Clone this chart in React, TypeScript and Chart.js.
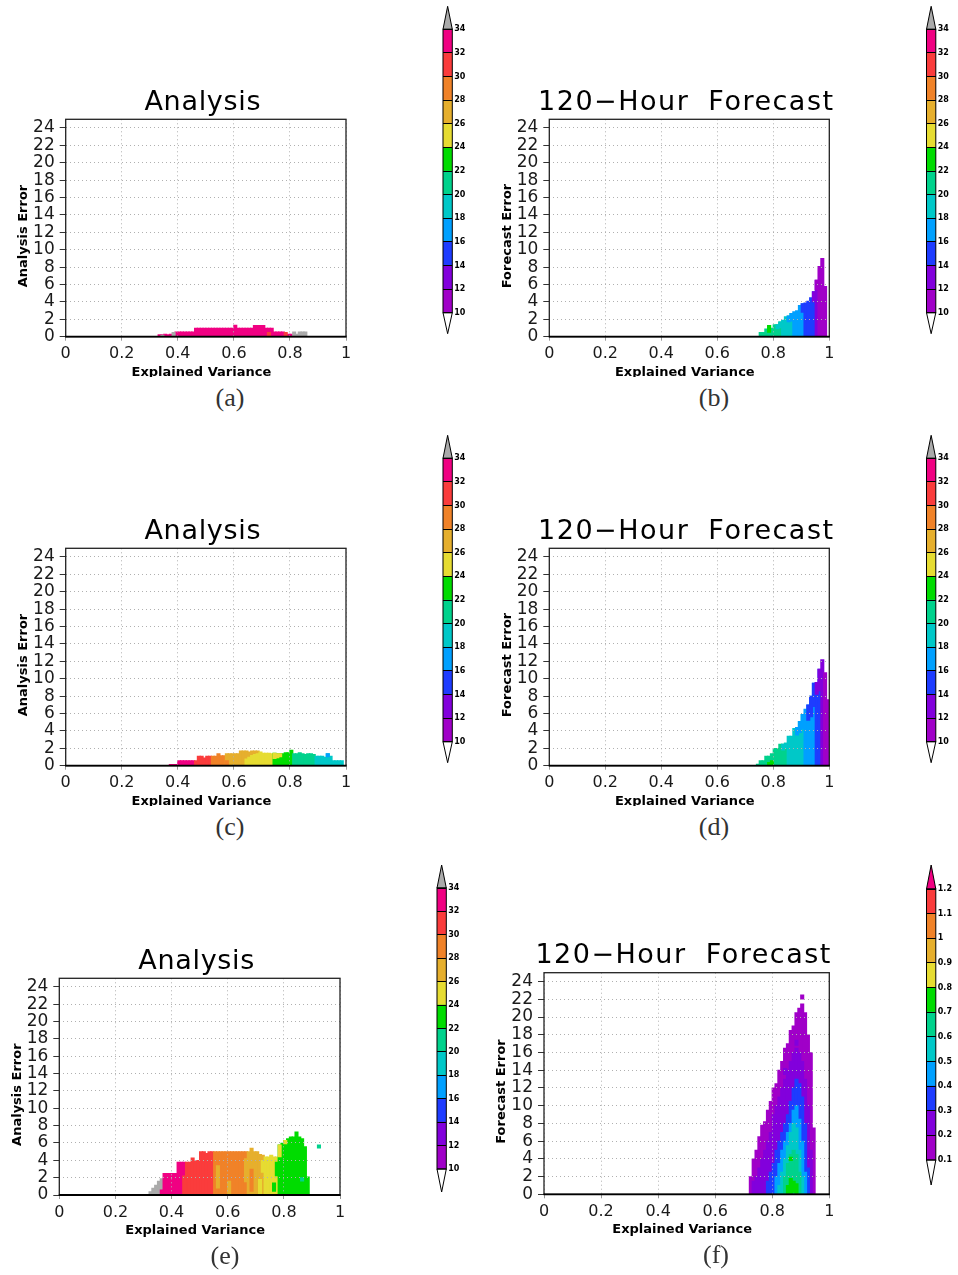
import React, { useEffect, useRef } from 'react';
import { Chart, registerables } from 'chart.js';

Chart.register(...registerables);

const FONT = "'DejaVu Sans', 'Liberation Sans', sans-serif";
const BIN = 0.01;

// GrADS rainbow palette: index = colour level (lowest band first), last = above-range grey
const palette = ['#a000c8', '#8200dc', '#1e3cff', '#00a0ff', '#00c8c8', '#00d28c', '#00dc00', '#e6dc32', '#e6af2d', '#f08228', '#fa3c3c', '#f00082', '#aaaaaa'];

const xTickValues = [0, 0.2, 0.4, 0.6, 0.8, 1];
const xTickLabels = ['0', '0.2', '0.4', '0.6', '0.8', '1'];
const yTickValues = [0, 2, 4, 6, 8, 10, 12, 14, 16, 18, 20, 22, 24];
const yTickLabels = ['0', '2', '4', '6', '8', '10', '12', '14', '16', '18', '20', '22', '24'];

const cbLevels = [10, 12, 14, 16, 18, 20, 22, 24, 26, 28, 30, 32, 34];
const cbLabels = ['10', '12', '14', '16', '18', '20', '22', '24', '26', '28', '30', '32', '34'];
const cbLevelsF = [0.1, 0.2, 0.3, 0.4, 0.5, 0.6, 0.7, 0.8, 0.9, 1.0, 1.1, 1.2];
const cbLabelsF = ['0.1', '0.2', '0.3', '0.4', '0.5', '0.6', '0.7', '0.8', '0.9', '1', '1.1', '1.2'];

// ---------- Panel (a): columns (bin left edge), top of column, colour level ----------
const aX = [0.33, 0.34, 0.35, 0.36, 0.37, 0.38, 0.39, 0.40, 0.41, 0.42, 0.43, 0.44, 0.45, 0.46, 0.47, 0.48, 0.49, 0.50, 0.51, 0.52, 0.53, 0.54, 0.55, 0.56, 0.57, 0.58, 0.59, 0.60, 0.61, 0.62, 0.63, 0.64, 0.65, 0.66, 0.67, 0.68, 0.69, 0.70, 0.71, 0.72, 0.73, 0.74, 0.75, 0.76, 0.77, 0.78, 0.79, 0.80, 0.81, 0.82, 0.83, 0.84, 0.85];
const aTop = [0.25, 0.25, 0.3, 0.25, 0.3, 0.3, 0.55, 0.55, 0.55, 0.55, 0.55, 0.55, 0.55, 1.0, 1.0, 1.0, 1.0, 1.0, 1.0, 1.0, 1.0, 1.0, 1.0, 1.0, 1.0, 1.0, 1.0, 1.35, 1.0, 1.0, 1.0, 1.0, 1.0, 1.0, 1.3, 1.3, 1.3, 1.3, 1.0, 1.0, 1.0, 0.55, 0.55, 0.55, 0.55, 0.3, 0.3, 0.3, 0.55, 0.3, 0.55, 0.55, 0.55];
const aLevel = [11, 11, 11, 11, 11, 11, 11, 11, 11, 11, 11, 11, 11, 11, 11, 11, 11, 11, 11, 11, 11, 11, 11, 11, 11, 11, 11, 11, 11, 11, 11, 11, 11, 11, 11, 11, 11, 11, 11, 11, 11, 11, 11, 11, 11, 11, 11, 11, 12, 12, 12, 12, 12];
const aExtra = [[0.38, 0, 0.5, 12], [0.34, 0, 0.2, 12], [0.72, 0, 0.5, 10], [0.78, 0, 0.5, 10]];

// ---------- Panel (b) ----------
const bX = [0.75, 0.76, 0.77, 0.78, 0.79, 0.80, 0.81, 0.82, 0.83, 0.84, 0.85, 0.86, 0.87, 0.88, 0.89, 0.90, 0.91, 0.92, 0.93, 0.94, 0.95, 0.96, 0.97, 0.98];
const bTop = [0.5, 0.5, 0.9, 1.3, 1.0, 1.4, 1.4, 1.7, 1.9, 2.3, 2.4, 2.7, 2.9, 3.0, 3.6, 3.8, 3.9, 4.1, 4.5, 5.2, 6.5, 8.1, 9.0, 5.8];
const bLevel = [5, 5, 5, 5, 5, 5, 5, 5, 4, 4, 4, 4, 3, 3, 3, 3, 2, 2, 2, 2, 1, 0, 0, 0];
const bExtra = [[0.78, 0.5, 1.3, 6], [0.81, 0.9, 1.4, 4], [0.82, 1.0, 1.7, 4], [0.85, 1.7, 2.4, 3], [0.86, 1.8, 2.7, 3], [0.90, 2.8, 3.8, 2], [0.94, 4.0, 5.2, 1], [0.95, 5.4, 6.5, 0]];

// ---------- Panel (c) ----------
const cX = [0.37, 0.38, 0.39, 0.40, 0.41, 0.42, 0.43, 0.44, 0.45, 0.46, 0.47, 0.48, 0.49, 0.50, 0.51, 0.52, 0.53, 0.54, 0.55, 0.56, 0.57, 0.58, 0.59, 0.60, 0.61, 0.62, 0.63, 0.64, 0.65, 0.66, 0.67, 0.68, 0.69, 0.70, 0.71, 0.72, 0.73, 0.74, 0.75, 0.76, 0.77, 0.78, 0.79, 0.80, 0.81, 0.82, 0.83, 0.84, 0.85, 0.86, 0.87, 0.88, 0.89, 0.90, 0.91, 0.92, 0.93, 0.94, 0.95, 0.96, 0.97, 0.98];
const cTop = [0.15, 0.15, 0.15, 0.6, 0.6, 0.6, 0.6, 0.6, 0.6, 0.6, 1.1, 1.1, 0.9, 1.1, 1.1, 1.1, 1.1, 1.4, 1.15, 1.15, 1.4, 1.4, 1.4, 1.4, 1.4, 1.7, 1.7, 1.7, 1.6, 1.7, 1.7, 1.7, 1.6, 1.45, 1.45, 1.45, 1.4, 1.45, 1.4, 1.4, 1.4, 1.5, 1.5, 1.8, 1.4, 1.4, 1.5, 1.4, 1.3, 1.4, 1.4, 1.3, 1.1, 1.1, 1.1, 1.0, 1.4, 1.1, 0.6, 0.6, 0.6, 0.6];
const cLevel = [11, 11, 11, 11, 11, 11, 11, 11, 11, 10, 10, 10, 10, 10, 10, 9, 9, 9, 9, 9, 8, 8, 8, 8, 8, 8, 8, 8, 8, 8, 8, 8, 7, 7, 7, 7, 7, 6, 6, 6, 6, 6, 6, 6, 5, 5, 5, 5, 5, 5, 5, 5, 4, 4, 4, 4, 4, 4, 4, 4, 4, 4];
const cExtra = [[0.64, 0, 0.8, 7], [0.65, 0, 1.0, 7], [0.66, 0, 1.2, 7], [0.67, 0, 1.3, 7], [0.68, 0, 1.4, 7], [0.74, 0.8, 1.45, 7], [0.75, 0.9, 1.4, 7], [0.76, 1.0, 1.4, 7], [0.57, 0, 0.6, 9], [0.93, 1.0, 1.4, 3]];

// ---------- Panel (d) ----------
const dX = [0.74, 0.75, 0.76, 0.77, 0.78, 0.79, 0.80, 0.81, 0.82, 0.83, 0.84, 0.85, 0.86, 0.87, 0.88, 0.89, 0.90, 0.91, 0.92, 0.93, 0.94, 0.95, 0.96, 0.97, 0.98, 0.99];
const dTop = [0.2, 0.6, 0.6, 1.1, 1.1, 1.4, 2.0, 2.0, 2.5, 2.5, 2.6, 3.4, 3.4, 4.3, 4.4, 5.1, 5.9, 6.5, 7.0, 8.0, 9.5, 9.6, 11.1, 12.2, 10.7, 7.6];
const dLevel = [5, 5, 5, 5, 5, 5, 5, 5, 5, 5, 5, 4, 4, 4, 4, 4, 4, 3, 3, 3, 3, 2, 2, 1, 0, 0];
const dExtra = [[0.78, 0, 0.4, 6], [0.79, 0, 0.6, 6], [0.83, 1.8, 2.5, 4], [0.84, 2.0, 2.6, 4], [0.88, 3.5, 4.4, 3], [0.89, 3.8, 5.1, 3], [0.90, 4.2, 5.9, 3], [0.92, 5.2, 7.0, 2], [0.93, 5.6, 8.0, 2], [0.94, 6.8, 9.5, 2], [0.95, 8.2, 9.6, 1], [0.96, 8.6, 11.1, 1]];

// ---------- Panel (e) ----------
const eX = [0.32, 0.33, 0.34, 0.35, 0.36, 0.37, 0.38, 0.39, 0.40, 0.41, 0.42, 0.43, 0.44, 0.45, 0.46, 0.47, 0.48, 0.49, 0.50, 0.51, 0.52, 0.53, 0.54, 0.55, 0.56, 0.57, 0.58, 0.59, 0.60, 0.61, 0.62, 0.63, 0.64, 0.65, 0.66, 0.67, 0.68, 0.69, 0.70, 0.71, 0.72, 0.73, 0.74, 0.75, 0.76, 0.77, 0.78, 0.79, 0.80, 0.81, 0.82, 0.83, 0.84, 0.85, 0.86, 0.87, 0.88];
const eTop = [0.4, 0.8, 1.15, 1.6, 1.9, 2.5, 2.5, 2.5, 2.5, 2.5, 3.8, 3.8, 3.8, 3.8, 3.8, 4.3, 3.9, 4.0, 5.0, 5.0, 4.8, 5.0, 5.0, 5.0, 5.0, 5.0, 5.0, 5.0, 5.0, 5.0, 5.0, 5.0, 5.0, 5.0, 5.0, 5.0, 5.4, 5.0, 5.0, 4.7, 4.6, 4.4, 4.4, 4.6, 4.4, 4.4, 5.8, 6.0, 6.3, 6.5, 6.7, 6.7, 7.3, 6.7, 6.5, 5.6, 2.1];
const eLevel = [12, 12, 12, 12, 12, 11, 11, 11, 11, 11, 11, 11, 11, 10, 10, 10, 10, 10, 10, 10, 10, 10, 10, 9, 9, 9, 9, 9, 9, 9, 9, 9, 9, 9, 9, 8, 8, 8, 8, 8, 8, 7, 7, 7, 7, 7, 6, 6, 6, 6, 6, 6, 6, 6, 6, 6, 6];
const eExtra = [[0.36, 0, 0.6, 11], [0.44, 0, 2.2, 10], [0.56, 0.8, 3.4, 8], [0.60, 0, 1.6, 8], [0.66, 1.5, 4.2, 8], [0.68, 0.4, 3.0, 9], [0.71, 0, 1.8, 7], [0.72, 2.6, 4.0, 7], [0.76, 0.4, 1.4, 6], [0.77, 2.2, 3.8, 6], [0.78, 4.4, 5.8, 7], [0.80, 5.9, 6.3, 7], [0.86, 1.6, 2.0, 5], [0.92, 5.4, 5.8, 5]];

// ---------- Panel (f): density layers per column ----------
const fX = [0.72, 0.73, 0.74, 0.75, 0.76, 0.77, 0.78, 0.79, 0.80, 0.81, 0.82, 0.83, 0.84, 0.85, 0.86, 0.87, 0.88, 0.89, 0.90, 0.91, 0.92, 0.93, 0.94];
const fViolet = [2.0, 4.0, 5.0, 6.5, 7.8, 8.2, 9.5, 10.5, 12.0, 12.5, 14.0, 15.0, 16.5, 17.0, 18.5, 19.0, 20.5, 21.0, 21.5, 20.5, 18.0, 16.0, 7.5];
const fPurple = [null, [0, 1.5], [0, 2], [0, 3], [0, 4], [0, 5], [0, 6], [0, 7], [0, 9], [0, 10], [0, 11], [0, 12], [0, 13], [0, 14], [0, 15], [0, 16], [0, 16.5], [0, 16], [0, 15], [0, 13], [0, 10], [0, 5], null];
const fBlue = [null, null, null, null, null, null, [0, 1.5], [0, 2.5], [0, 3.5], [0, 5], [0, 6], [0, 7], [0, 8], [0, 9], [0, 10.5], [0, 12], [0, 13], [0, 12.5], [0, 11], [0, 8], [0, 3], null, null];
const fLightBlue = [null, null, null, null, null, null, null, null, null, [0, 2], [0, 3.5], [0, 5], [0, 6], [0, 7], [0, 8], [0, 9.5], [0, 10], [0, 8.5], [0, 6], [0, 2.5], null, null, null];
const fCyan = [null, null, null, null, null, null, null, null, null, null, [0, 1], [0, 2.5], [0, 4], [0, 5.5], [0, 7], [0, 8], [0, 7.5], [0, 5], [0, 2], null, null, null, null];
const fTeal = [null, null, null, null, null, null, null, null, null, null, null, null, [0, 2], [0, 3.5], [0, 4.5], [0, 5], [0, 4.5], [0, 2.5], null, null, null, null, null];
const fGreen = [null, null, null, null, null, null, null, null, null, null, null, null, null, [0, 1], [0, 1.8], [0.2, 1.5], [0, 1.2], null, null, null, null, null, null];
const fExtra = [[0.90, 22.0, 22.5, 0], [0.86, 3.8, 4.2, 6], [0.88, 16.8, 17.4, 1], [0.84, 13.5, 14.2, 1]];

// ---------- dataset builders ----------
function columnDataset(xs: number[], tops: number[], levels: number[], order: number) {
  return {
    data: xs.map((x, i) => ({ x: x + BIN / 2, y: [0, tops[i]] })),
    backgroundColor: levels.map((l) => palette[l]),
    order,
  };
}
function cellDataset(cells: number[][], order: number) {
  return {
    data: cells.map((c) => ({ x: c[0] + BIN / 2, y: [c[1], c[2]] })),
    backgroundColor: cells.map((c) => palette[c[3]]),
    order,
  };
}
function rangeDataset(xs: number[], ranges: any[], level: number, order: number) {
  const pts: any[] = [];
  xs.forEach((x, i) => {
    const r = ranges[i];
    if (r) pts.push({ x: x + BIN / 2, y: [r[0], r[1]] });
  });
  return { data: pts, backgroundColor: palette[level], order };
}

const panelDecor = {
  id: 'panelDecor',
  afterDraw(chart: any, _args: any, opts: any) {
    const { ctx, chartArea: ca } = chart;
    const mid = (ca.left + ca.right) / 2;
    ctx.save();
    // frame
    ctx.strokeStyle = '#222';
    ctx.lineWidth = 1.3;
    ctx.strokeRect(ca.left, ca.top, ca.right - ca.left, ca.bottom - ca.top);
    ctx.strokeStyle = '#000';
    ctx.lineWidth = 1.8;
    ctx.beginPath();
    ctx.moveTo(ca.left - 0.5, ca.bottom);
    ctx.lineTo(ca.right + 0.5, ca.bottom);
    ctx.stroke();
    // title
    ctx.fillStyle = '#000';
    ctx.textAlign = 'center';
    ctx.textBaseline = 'alphabetic';
    ctx.font = `normal 27px ${FONT}`;
    ctx.letterSpacing = opts.wide ? '1.5px' : '0.7px';
    ctx.wordSpacing = opts.wide ? '9px' : '0px';
    ctx.fillText(opts.title, mid - 3, ca.top - 9.5);
    ctx.letterSpacing = '0px';
    ctx.wordSpacing = '0px';
    // axis titles
    ctx.font = `bold 13px ${FONT}`;
    ctx.fillText('Explained Variance', mid - 4.5, ca.bottom + 39);
    ctx.translate(ca.left - 42, (ca.top + ca.bottom) / 2 + 8);
    ctx.rotate(-Math.PI / 2);
    ctx.textBaseline = 'middle';
    ctx.fillText(opts.yTitle, 0, 0);
    ctx.restore();
  },
};

const cbDecor = {
  id: 'cbDecor',
  afterDraw(chart: any, _args: any, opts: any) {
    const { ctx, chartArea: ca } = chart;
    const cx = (ca.left + ca.right) / 2;
    ctx.save();
    ctx.strokeStyle = '#000';
    ctx.lineWidth = 1;
    ctx.beginPath();
    ctx.moveTo(ca.left, ca.top);
    ctx.lineTo(cx, ca.top - opts.tipTop);
    ctx.lineTo(ca.right, ca.top);
    ctx.closePath();
    ctx.fillStyle = opts.topColor;
    ctx.fill();
    ctx.stroke();
    ctx.beginPath();
    ctx.moveTo(ca.left, ca.bottom);
    ctx.lineTo(cx, ca.bottom + opts.tipBottom);
    ctx.lineTo(ca.right, ca.bottom);
    ctx.closePath();
    ctx.fillStyle = '#fff';
    ctx.fill();
    ctx.stroke();
    ctx.strokeRect(ca.left, ca.top, ca.right - ca.left, ca.bottom - ca.top);
    ctx.restore();
  },
};

type Rect = [number, number, number, number];

function Panel({ canvas, plot, title, yTitle, wide, datasets }: { canvas: Rect; plot: Rect; title: string; yTitle: string; wide: boolean; datasets: any[] }) {
  const ref = useRef<HTMLCanvasElement>(null);
  const [cx, cy, cw, ch] = canvas;
  useEffect(() => {
    const [L, T, R, B] = plot;
    const binPx = (R - L) * BIN;
    const chart = new Chart(ref.current as HTMLCanvasElement, {
      type: 'bar',
      data: { datasets } as any,
      options: {
        animation: false,
        responsive: false,
        maintainAspectRatio: false,
        events: [],
        layout: { padding: { left: 0, top: T - cy, right: cx + cw - R, bottom: 0 } },
        datasets: { bar: { grouped: false, barThickness: binPx + 0.6, borderWidth: 0 } },
        plugins: {
          legend: { display: false },
          tooltip: { enabled: false },
          panelDecor: { title, yTitle, wide },
        },
        scales: {
          x: {
            type: 'linear',
            min: 0,
            max: 1,
            offset: false,
            afterBuildTicks: (s: any) => {
              s.ticks = xTickValues.map((v) => ({ value: v }));
            },
            afterFit: (s: any) => {
              s.height = cy + ch - B;
            },
            ticks: {
              autoSkip: false,
              maxRotation: 0,
              padding: 4,
              color: '#1a1a1a',
              font: { family: FONT, size: 16, weight: 'normal' },
              callback: (_v: any, i: number) => xTickLabels[i],
            },
            grid: { offset: false, z: 1, color: '#b0b0b0', lineWidth: 1, tickLength: 4, tickColor: '#999', tickWidth: 1 },
            border: { display: false, dash: [1, 3] },
          },
          y: {
            type: 'linear',
            min: 0,
            max: 25,
            afterBuildTicks: (s: any) => {
              s.ticks = yTickValues.map((v) => ({ value: v }));
            },
            afterFit: (s: any) => {
              s.width = L - cx;
            },
            ticks: {
              autoSkip: false,
              padding: 5,
              color: '#1a1a1a',
              font: { family: FONT, size: 17, weight: 'normal' },
              callback: (_v: any, i: number) => yTickLabels[i],
            },
            grid: { z: 1, color: '#b0b0b0', lineWidth: 1, tickLength: 6, tickColor: '#333', tickWidth: 1 },
            border: { display: false, dash: [1, 3] },
          },
        },
      } as any,
      plugins: [panelDecor],
    });
    return () => chart.destroy();
  }, []);
  return <canvas ref={ref} width={cw} height={ch} style={{ position: 'absolute', left: cx, top: cy, width: cw, height: ch }} />;
}

function ColorBar({ canvas, bar, levels, labels, topColor, tipTop, tipBottom }: { canvas: Rect; bar: Rect; levels: number[]; labels: string[]; topColor: string; tipTop: number; tipBottom: number }) {
  const ref = useRef<HTMLCanvasElement>(null);
  const [cx, cy, cw, ch] = canvas;
  useEffect(() => {
    const [L, T, R, B] = bar;
    const bands = levels.slice(0, -1).map((v, i) => [v, levels[i + 1]]);
    const chart = new Chart(ref.current as HTMLCanvasElement, {
      type: 'bar',
      data: {
        labels: [''],
        datasets: bands.map((b, i) => ({ data: [b], backgroundColor: palette[i] })),
      } as any,
      options: {
        animation: false,
        responsive: false,
        maintainAspectRatio: false,
        events: [],
        layout: { padding: { left: L - cx, top: T - cy, right: 0, bottom: cy + ch - B } },
        datasets: { bar: { grouped: false, barPercentage: 1, categoryPercentage: 1, borderWidth: 0 } },
        plugins: { legend: { display: false }, tooltip: { enabled: false }, cbDecor: { topColor, tipTop, tipBottom } },
        scales: {
          x: { display: false },
          y: {
            position: 'right',
            min: levels[0],
            max: levels[levels.length - 1],
            afterBuildTicks: (s: any) => {
              s.ticks = levels.map((v) => ({ value: v }));
            },
            afterFit: (s: any) => {
              s.width = cx + cw - R;
            },
            ticks: { autoSkip: false, padding: 2, color: '#000', font: { family: FONT, size: 8, weight: 'bold' }, callback: (_v: any, i: number) => labels[i] },
            grid: { color: '#000', z: 1, drawTicks: false, lineWidth: 1 },
            border: { display: false },
          },
        },
      } as any,
      plugins: [cbDecor],
    });
    return () => chart.destroy();
  }, []);
  return <canvas ref={ref} width={cw} height={ch} style={{ position: 'absolute', left: cx, top: cy, width: cw, height: ch }} />;
}

function Caption({ x, y, text }: { x: number; y: number; text: string }) {
  return (
    <div
      style={{
        position: 'absolute',
        left: x,
        top: y,
        transform: 'translate(-50%, -50%)',
        font: "26px 'Liberation Serif', 'DejaVu Serif', serif",
        color: '#333',
        lineHeight: 1,
        whiteSpace: 'nowrap',
      }}
    >
      {text}
    </div>
  );
}

export default function App() {
  const dsA = [columnDataset(aX, aTop, aLevel, 0), cellDataset(aExtra, -1)];
  const dsB = [columnDataset(bX, bTop, bLevel, 0), cellDataset(bExtra, -1)];
  const dsC = [columnDataset(cX, cTop, cLevel, 0), cellDataset(cExtra, -1)];
  const dsD = [columnDataset(dX, dTop, dLevel, 0), cellDataset(dExtra, -1)];
  const dsE = [columnDataset(eX, eTop, eLevel, 0), cellDataset(eExtra, -1)];
  const dsF = [
    columnDataset(fX, fViolet, fX.map(() => 0), 0),
    rangeDataset(fX, fPurple, 1, -1),
    rangeDataset(fX, fBlue, 2, -2),
    rangeDataset(fX, fLightBlue, 3, -3),
    rangeDataset(fX, fCyan, 4, -4),
    rangeDataset(fX, fTeal, 5, -5),
    rangeDataset(fX, fGreen, 6, -6),
    cellDataset(fExtra, -7),
  ];
  const A = 'Analysis';
  const F = '120\u2212Hour Forecast';
  return (
    <div style={{ position: 'absolute', left: 0, top: 0, width: 958, height: 1275, background: '#fff', overflow: 'hidden' }}>
      <Panel canvas={[0, 70, 420, 307]} plot={[65.7, 119.3, 346, 336.7]} title={A} yTitle="Analysis Error" wide={false} datasets={dsA} />
      <Panel canvas={[482, 70, 430, 307]} plot={[549.3, 119.3, 829.3, 336.7]} title={F} yTitle="Forecast Error" wide={true} datasets={dsB} />
      <Panel canvas={[0, 499, 420, 307]} plot={[65.7, 548.3, 346, 765.7]} title={A} yTitle="Analysis Error" wide={false} datasets={dsC} />
      <Panel canvas={[482, 499, 430, 307]} plot={[549.3, 548.3, 829.3, 765.7]} title={F} yTitle="Forecast Error" wide={true} datasets={dsD} />
      <Panel canvas={[0, 925, 420, 350]} plot={[59.3, 978.3, 340, 1195]} title={A} yTitle="Analysis Error" wide={false} datasets={dsE} />
      <Panel canvas={[482, 915, 430, 360]} plot={[544, 972.7, 829.3, 1194.3]} title={F} yTitle="Forecast Error" wide={true} datasets={dsF} />

      <ColorBar canvas={[430, 0, 45, 345]} bar={[443, 29.3, 452.3, 312.7]} levels={cbLevels} labels={cbLabels} topColor="#aaaaaa" tipTop={23} tipBottom={21} />
      <ColorBar canvas={[914, 0, 44, 345]} bar={[926.5, 29.3, 935.8, 312.7]} levels={cbLevels} labels={cbLabels} topColor="#aaaaaa" tipTop={23} tipBottom={21} />
      <ColorBar canvas={[430, 429, 45, 345]} bar={[443, 458.3, 452.3, 741.7]} levels={cbLevels} labels={cbLabels} topColor="#aaaaaa" tipTop={23} tipBottom={21} />
      <ColorBar canvas={[914, 429, 44, 345]} bar={[926.5, 458.3, 935.8, 741.7]} levels={cbLevels} labels={cbLabels} topColor="#aaaaaa" tipTop={23} tipBottom={21} />
      <ColorBar canvas={[424, 855, 45, 350]} bar={[437, 888, 446.3, 1169]} levels={cbLevels} labels={cbLabels} topColor="#aaaaaa" tipTop={23} tipBottom={23} />
      <ColorBar canvas={[914, 855, 44, 345]} bar={[926.5, 889, 935.8, 1160]} levels={cbLevelsF} labels={cbLabelsF} topColor="#f00082" tipTop={24} tipBottom={25} />

      <Caption x={230} y={398} text="(a)" />
      <Caption x={714} y={398} text="(b)" />
      <Caption x={230} y={827} text="(c)" />
      <Caption x={714} y={827} text="(d)" />
      <Caption x={225} y={1256} text="(e)" />
      <Caption x={716} y={1255} text="(f)" />
    </div>
  );
}
